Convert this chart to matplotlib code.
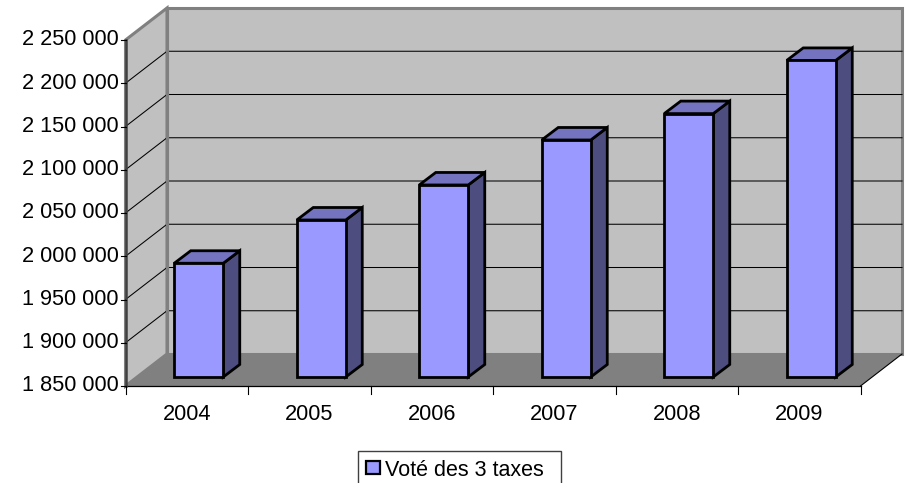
import matplotlib
matplotlib.use("Agg")
import matplotlib.pyplot as plt
from matplotlib.patches import Polygon, Rectangle

years = ["2004", "2005", "2006", "2007", "2008", "2009"]
votes = [1981500, 2031500, 2072000, 2124000, 2154500, 2216000]
y_ticks = [1850000 + 50000 * i for i in range(9)]
y_labels = ["1 850 000", "1 900 000", "1 950 000", "2 000 000", "2 050 000",
            "2 100 000", "2 150 000", "2 200 000", "2 250 000"]
series_name = "Voté des 3 taxes"

W, H = 912, 483
L, R, B, T = 125.5, 860.5, 386.0, 40.0
fig = plt.figure(figsize=(W / 100, H / 100), dpi=100, facecolor="white")
ax = fig.add_axes([L / W, 1 - B / H, (R - L) / W, (B - T) / H])
ax.set_xlim(-0.5, 5.5)
ax.set_ylim(1850000, 2250000)
ax.patch.set_visible(False)
for s in ax.spines.values():
    s.set_visible(False)
ax.set_xticks([])
ax.set_yticks([])

# pixel-to-data scale factors for the oblique depth
px_x = 6 / (R - L)
px_y = 400000 / (B - T)
dx, dy = 41.5 * px_x, 32 * px_y
x0, x1 = -0.5, 5.5
y0, y1 = 1850000, 2250000
GREY = "#808080"
WALL = "#c0c0c0"
FS = 15.7

ax.add_patch(Polygon([(x0 + dx, y0 + dy), (x1 + dx, y0 + dy), (x1 + dx, y1 + dy), (x0 + dx, y1 + dy)],
                     fc=WALL, ec=GREY, lw=2.2, clip_on=False, zorder=1, joinstyle="miter"))
ax.add_patch(Polygon([(x0, y0), (x0 + dx, y0 + dy), (x0 + dx, y1 + dy), (x0, y1)],
                     fc=WALL, ec=GREY, lw=2.2, clip_on=False, zorder=1, joinstyle="miter"))
for v in y_ticks[1:-1]:
    ax.plot([x0, x0 + dx, x1 + dx], [v, v + dy, v + dy], color="black", lw=0.75,
            clip_on=False, zorder=2)
ax.plot([x0 + dx, x0 + dx], [y0 + dy, y1 + dy], color=GREY, lw=2.2, clip_on=False, zorder=2)
ax.add_patch(Polygon([(x0, y0), (x1, y0), (x1 + dx, y0 + dy), (x0 + dx, y0 + dy)],
                     fc=GREY, ec="none", clip_on=False, zorder=3))
# floor edge lines
ax.plot([x1, x1 + dx], [y0, y0 + dy], color="black", lw=0.8, clip_on=False, zorder=3)
ax.plot([x0, x1], [y0, y0], color="black", lw=0.9, clip_on=False, zorder=4)
ax.plot([x0, x0], [y0, y1], color="#404040", lw=1.8, clip_on=False, zorder=4)

# ticks and labels
for v, lab in zip(y_ticks, y_labels):
    ax.plot([x0 - 5 * px_x, x0], [v, v], color="black", lw=0.8, clip_on=False, zorder=4)
    ax.text(x0 - 7 * px_x, v + 0.2 * px_y, lab, ha="right", va="center", fontsize=FS,
            family="Liberation Sans", color="black")
for i in range(7):
    ax.plot([x0 + i, x0 + i], [y0, y0 - 8 * px_y], color="black", lw=0.8, clip_on=False, zorder=4)
for i, lab in enumerate(years):
    ax.text(i, y0 - 28.5 * px_y, lab, ha="center", va="center", fontsize=FS,
            family="Liberation Sans", color="black")

# bars
FRONT = "#9999ff"
TOP = "#7373bf"
SIDE = "#4d4d80"
bar_w = 49 * px_x
off_x, off_y = 12.0 * px_x, 9 * px_y
ddx, ddy = 16.5 * px_x, 12.5 * px_y
for i, v in enumerate(votes):
    l = i - bar_w / 2 + off_x
    r = l + bar_w
    b = y0 + off_y
    t = v + off_y
    kw = dict(ec="black", lw=2.0, clip_on=False, zorder=5, joinstyle="miter")
    ax.add_patch(Polygon([(r, b), (r + ddx, b + ddy), (r + ddx, t + ddy), (r, t)], fc=SIDE, **kw))
    ax.add_patch(Polygon([(l, t), (r, t), (r + ddx, t + ddy), (l + ddx, t + ddy)], fc=TOP, **kw))
    ax.add_patch(Polygon([(l, b), (r, b), (r, t), (l, t)], fc=FRONT, **kw))

# legend box
fig.add_artist(Rectangle((358.5 / W, 1 - 489 / H), 202.5 / W, 38 / H, transform=fig.transFigure,
                         fc="white", ec="#404040", lw=1.0))
fig.add_artist(Rectangle((366.5 / W, 1 - 473.5 / H), 14 / W, 12.5 / H, transform=fig.transFigure,
                         fc=FRONT, ec="black", lw=1.6))
fig.text(385 / W, 1 - 470.5 / H, series_name, ha="left", va="center", fontsize=15.5,
         family="Liberation Sans", color="black")

fig.savefig("out.png", dpi=100, facecolor="white")
